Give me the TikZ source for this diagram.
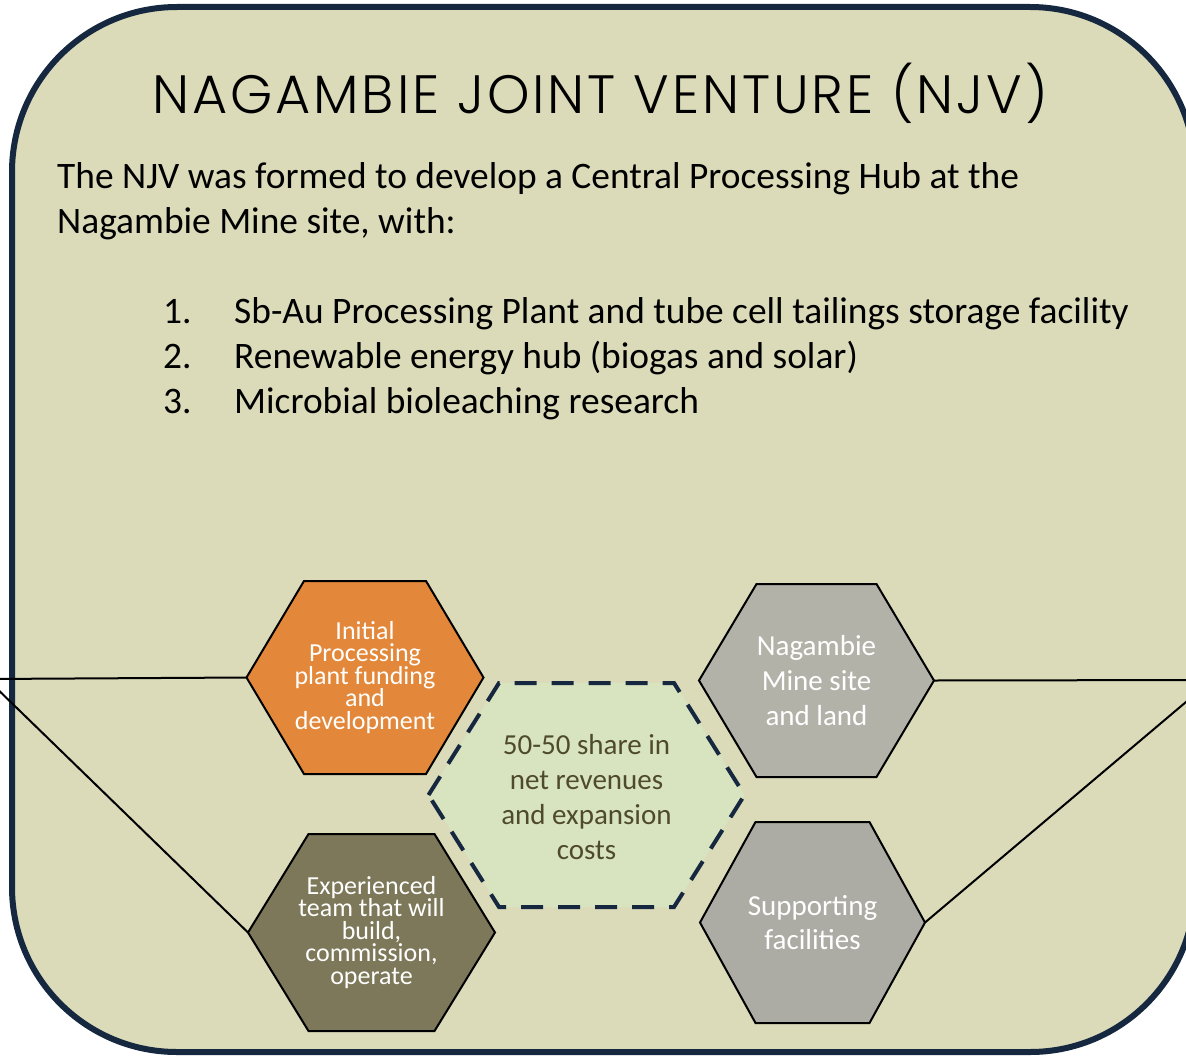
\documentclass[tikz,border=0pt]{standalone}
\usepackage{fontspec}
\setmainfont{Carlito}
\newfontfamily\titlefont{Poppins Light}[LetterSpace=5.4]
\definecolor{navy}{HTML}{15283F}
\definecolor{bgtan}{HTML}{DBDBBA}
\definecolor{hexorange}{HTML}{E3883A}
\definecolor{hexolive}{HTML}{7C7859}
\definecolor{hexgreen}{HTML}{D8E3C0}
\definecolor{hexgrayA}{HTML}{B3B2A9}
\definecolor{hexgrayB}{HTML}{ACACA4}
\definecolor{midtext}{HTML}{4F4A2C}
\newcommand\tightlines{\lineskiplimit=-50pt\relax\lineskip=0pt\relax}
\newcommand\hexa[7]{%
  \draw[#7] ({#2-#4},#3) -- ({#2-#6},{#3-#5}) -- ({#2+#6},{#3-#5}) -- ({#2+#4},#3)
    -- ({#2+#6},{#3+#5}) -- ({#2-#6},{#3+#5}) -- cycle;
  \coordinate (#1-w) at ({#2-#4},#3);
  \coordinate (#1-e) at ({#2+#4},#3);
  \coordinate (#1-c) at (#2,#3);
}
\tikzset{
  hexline/.style={draw=black, line width=2pt},
  hextext/.style={align=center, text=white, inner sep=0pt,
    font=\fontsize{26}{22.5}\selectfont\tightlines},
  hextextB/.style={align=center, text=white, inner sep=0pt,
    font=\fontsize{29}{35}\selectfont\tightlines},
  bodytext/.style={anchor=base west, inner sep=0pt, font=\fontsize{37.4}{45}\selectfont},
  connector/.style={draw=black, line width=2pt},
}
\begin{document}
\begin{tikzpicture}[x=1pt,y=-1pt]
\useasboundingbox (0,0) rectangle (1186,1057);
\clip (0,0) rectangle (1186,1057);
\fill[white] (0,0) rectangle (1186,1057);
\draw[line width=6pt, draw=navy, fill=bgtan, rounded corners=165pt] (12,7) rectangle (1195,1052);

\node[anchor=base, inner sep=0pt, font=\titlefont\fontsize{54}{60}\selectfont] (title) at (600,113) {NAGAMBIE JOINT VENTURE (NJV)};

\node[bodytext] (intro1) at (57,188) {The NJV was formed to develop a Central Processing Hub at the};
\node[bodytext] (intro2) at (57,233) {Nagambie Mine site, with:};

\node[bodytext] (n1) at (163,323) {1.};
\node[bodytext] (t1) at (234,323) {Sb-Au Processing Plant and tube cell tailings storage facility};
\node[bodytext] (n2) at (163,368) {2.};
\node[bodytext] (t2) at (234,368) {Renewable energy hub (biogas and solar)};
\node[bodytext] (n3) at (163,413) {3.};
\node[bodytext] (t3) at (234,413) {Microbial bioleaching research};

\coordinate (ljoin) at (-13,679);
\coordinate (rjoin) at (1212,680);

\hexa{orange}{365}{677.5}{118.5}{96.5}{61}{hexline, fill=hexorange}
\hexa{olive}{371.5}{932.5}{123.5}{98.5}{63}{hexline, fill=hexolive}
\hexa{center}{586.5}{795}{158}{112}{87.5}{draw=navy, line width=4pt, dash pattern=on 22pt off 15pt, fill=hexgreen}
\hexa{grayA}{816.5}{680.5}{117.5}{96.5}{60}{hexline, fill=hexgrayA}
\hexa{grayB}{812.5}{922.5}{112.5}{100.5}{57}{hexline, fill=hexgrayB}

\draw[connector] (ljoin) -- (orange-w);
\draw[connector] (ljoin) -- (olive-w);
\draw[connector] (grayA-e) -- (rjoin);
\draw[connector] (grayB-e) -- (rjoin);

\node[hextext] (orangetext) at (orange-c) {Initial\\Processing\\plant funding\\and\\development};
\node[hextext] (olivetext) at (olive-c) {Experienced\\team that will\\build,\\commission,\\operate};
\node[hextextB, text=midtext] (centertext) at ([yshift=-2pt]center-c) {50-50 share in\\net revenues\\and expansion\\costs};
\node[hextextB] (grayAtext) at (grayA-c) {Nagambie\\Mine site\\and land};
\node[hextextB, font=\fontsize{29}{34}\selectfont\tightlines] (grayBtext) at (grayB-c) {Supporting\\facilities};
\end{tikzpicture}
\end{document}
